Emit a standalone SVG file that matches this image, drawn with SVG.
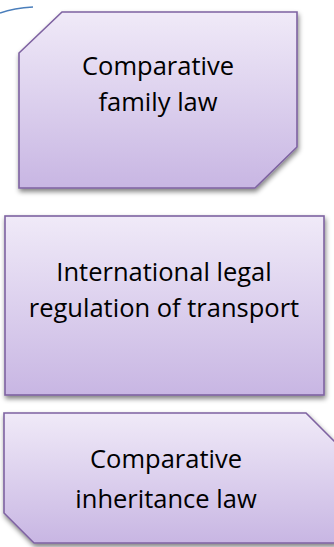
<svg xmlns="http://www.w3.org/2000/svg" width="334" height="547" viewBox="0 0 334 547">
<defs>
<linearGradient id="g" x1="0" y1="0" x2="0" y2="1">
<stop offset="0" stop-color="#f0eaf8"/>
<stop offset="1" stop-color="#c8b6e3"/>
</linearGradient>
<filter id="sh" x="-10%" y="-10%" width="125%" height="130%">
<feGaussianBlur in="SourceAlpha" stdDeviation="2.5"/>
<feOffset dx="1" dy="3" result="b"/>
<feComponentTransfer><feFuncA type="linear" slope="0.5"/></feComponentTransfer>
<feMerge><feMergeNode/><feMergeNode in="SourceGraphic"/></feMerge>
</filter>
</defs>
<style>
.box{fill:url(#g);stroke:#7e62a1;stroke-width:1.6;filter:url(#sh)}
.t{font-family:"Open Sans","Noto Sans",sans-serif;font-size:25.5px;fill:#000;text-anchor:middle}
.arc{fill:none;stroke:#4a7ebb;stroke-width:1.5}
</style>
<g id="connectors">
<path class="arc" d="M0,13 Q14,8 33,7"/>
</g>
<g id="node1">
<path class="box" d="M62,12 L297,12 L297,147 L255,188 L19,188 L19,53 Z"/>
<text class="t" x="158" y="75">Comparative</text>
<text class="t" x="158" y="111">family law</text>
</g>
<g id="node2">
<rect class="box" x="5" y="216" width="319" height="179"/>
<text class="t" x="164" y="281">International legal</text>
<text class="t" x="164" y="317">regulation of transport</text>
</g>
<g id="node3">
<path class="box" d="M4,413 L306,413 L336,443 L336,543 L34,543 L4,513 Z"/>
<text class="t" x="166" y="468">Comparative</text>
<text class="t" x="166" y="508">inheritance law</text>
</g>
</svg>
